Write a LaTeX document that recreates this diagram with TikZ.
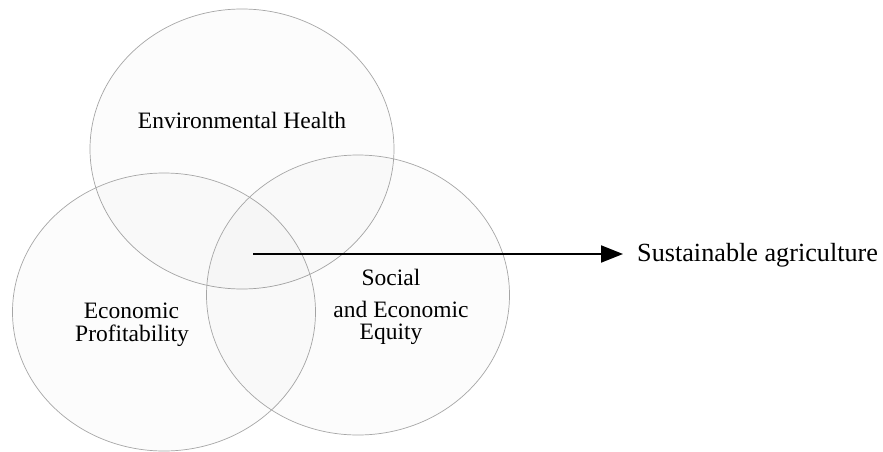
\documentclass[tikz,border=0pt]{standalone}
\usepackage{fontspec}
\setmainfont{Liberation Serif}
\usetikzlibrary{shapes.geometric,arrows.meta}
\begin{document}
\begin{tikzpicture}[x=1pt,y=-1pt,
  setbox/.style={ellipse,draw=black!35,line width=0.7pt,fill=black,fill opacity=0.012,draw opacity=1,inner sep=0pt},
  lbl/.style={anchor=base,inner sep=0pt,font=\fontsize{23.5}{23.5}\selectfont,text=black,text opacity=1},
  conn/.style={line width=2pt,-{Triangle[length=22pt,width=17pt]}}]
\useasboundingbox (0,0) rectangle (883,452);
\fill[white] (0,0) rectangle (883,452);
\node[setbox,minimum width=304pt,minimum height=280pt] (env) at (242,149) {};
\node[setbox,minimum width=303pt,minimum height=278pt] (eco) at (164,312) {};
\node[setbox,minimum width=303pt,minimum height=280pt] (soc) at (358,295) {};
\node[lbl] (envt) at (242,128) {Environmental Health};
\node[lbl] (ecot1) at (131.5,318) {Economic};
\node[lbl] (ecot2) at (132,341) {Profitability};
\node[lbl] (soct1) at (391,285) {Social};
\node[lbl] (soct2) at (401,317) {and Economic};
\node[lbl] (soct3) at (391,339) {Equity};
\node[anchor=base west,inner sep=0pt,font=\fontsize{26.2}{26.2}\selectfont] (sust) at (637,261) {Sustainable agriculture};
\coordinate (start) at (253,254);
\coordinate (tip) at (623,254);
\draw[conn] (start) -- (tip);
\end{tikzpicture}
\end{document}
